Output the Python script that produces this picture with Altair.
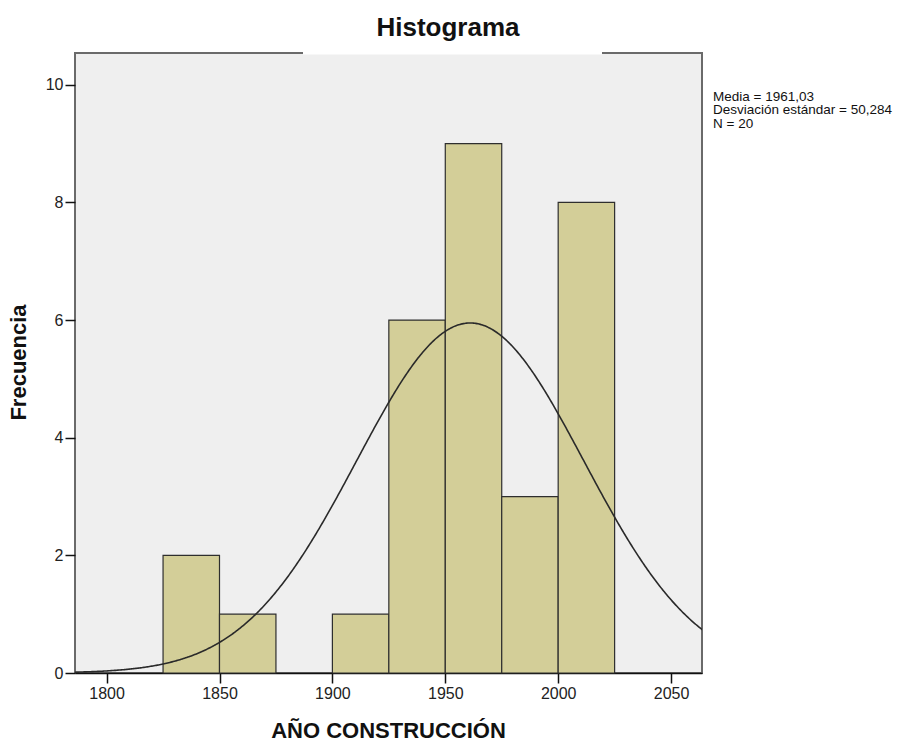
import altair as alt
import pandas as pd

# Histogram bins (year of construction), width 25
bin_start = [1825, 1850, 1875, 1900, 1925, 1950, 1975, 2000]
bin_width = 25
counts = [2, 1, 0, 1, 6, 9, 3, 8]

# Summary statistics shown next to the plot
mean_year = 1961.03
std_year = 50.284
n_label = 20
stats_lines = ["Media = 1961,03", "Desviación estándar = 50,284", "N = 20"]
chart_title = "Histograma"

x_ticks = [1800, 1850, 1900, 1950, 2000, 2050]
y_ticks = [0, 2, 4, 6, 8, 10]
x_domain = [1786, 2063.7]
y_domain = [0, 10.54]

FONT = "Liberation Sans"

bars_df = pd.DataFrame({
    "start": bin_start,
    "end": [s + bin_width for s in bin_start],
    "count": counts,
})

x_scale = alt.Scale(domain=x_domain, nice=False, zero=False)
y_scale = alt.Scale(domain=y_domain, nice=False)

x_axis = alt.Axis(
    values=x_ticks, format="d", title="AÑO CONSTRUCCIÓN",
    tickSize=10, labelPadding=2, grid=False,
    domainColor="#111", tickColor="#111", domainWidth=1.5, tickWidth=1.5,
    labelFontSize=16, labelColor="#222", labelFont=FONT,
    titleFontSize=22, titleFontWeight="bold", titleFont=FONT, titleColor="#111",
    titleX=313, titleY=64, titleBaseline="alphabetic", titleAlign="center",
)
y_axis = alt.Axis(
    values=y_ticks, format="d", title="Frecuencia",
    tickSize=10, labelPadding=2, grid=False, domain=False,
    tickColor="#111", tickWidth=1.5,
    labelFontSize=16, labelColor="#222", labelFont=FONT,
    titleFontSize=22, titleFontWeight="bold", titleFont=FONT, titleColor="#111",
    titleX=-57, titleY=309, titleAngle=270, titleBaseline="middle", titleAlign="center",
)

bars = alt.Chart(bars_df).transform_filter("datum.count > 0").mark_bar(
    fill="#D3CE98", stroke="#2e2e2e", strokeWidth=1.2
).encode(
    x=alt.X("start:Q", scale=x_scale, axis=x_axis),
    x2="end:Q",
    y=alt.Y("count:Q", scale=y_scale, axis=y_axis),
    y2=alt.datum(0),
)

# Normal curve fitted with the stated mean and standard deviation,
# scaled to the histogram's total count times bin width
total_scale = sum(counts) * bin_width
curve = alt.Chart(alt.sequence(x_domain[0], x_domain[1] + 0.5, 0.5, as_="x")).transform_calculate(
    y=f"{total_scale} * exp(-0.5 * pow((datum.x - {mean_year}) / {std_year}, 2)) / ({std_year} * sqrt(2 * PI))"
).mark_line(color="#2a2a2a", strokeWidth=1.6, clip=True).encode(
    x=alt.X("x:Q", scale=x_scale),
    y=alt.Y("y:Q", scale=y_scale),
)

# Title box breaks the top frame line
frame_gap = alt.Chart().mark_rule(color="white", strokeWidth=3).encode(
    x=alt.value(228), x2=alt.value(527), y=alt.value(0)
)

title_text = alt.Chart().mark_text(
    align="center", baseline="alphabetic", fontSize=26, fontWeight="bold",
    font=FONT, color="#111",
).encode(
    x=alt.value(373), y=alt.value(-17), text=alt.value(chart_title)
)

stats = alt.Chart().mark_text(
    align="left", baseline="alphabetic", fontSize=13.5, font=FONT,
    color="#111", lineHeight=13.3,
).encode(
    x=alt.value(638), y=alt.value(48), text=alt.value(stats_lines)
)

chart = alt.layer(bars, curve, frame_gap, title_text, stats).properties(
    width=627, height=620,
    padding={"left": 75, "top": 53, "right": 209, "bottom": 70},
    autosize=alt.AutoSizeParams(type="none"),
    background="white",
).configure_view(
    fill="#EFEFEF", stroke="#6a6a6a", strokeWidth=2
)

chart.save("out.html", embed_options={"renderer": "svg", "actions": False})
